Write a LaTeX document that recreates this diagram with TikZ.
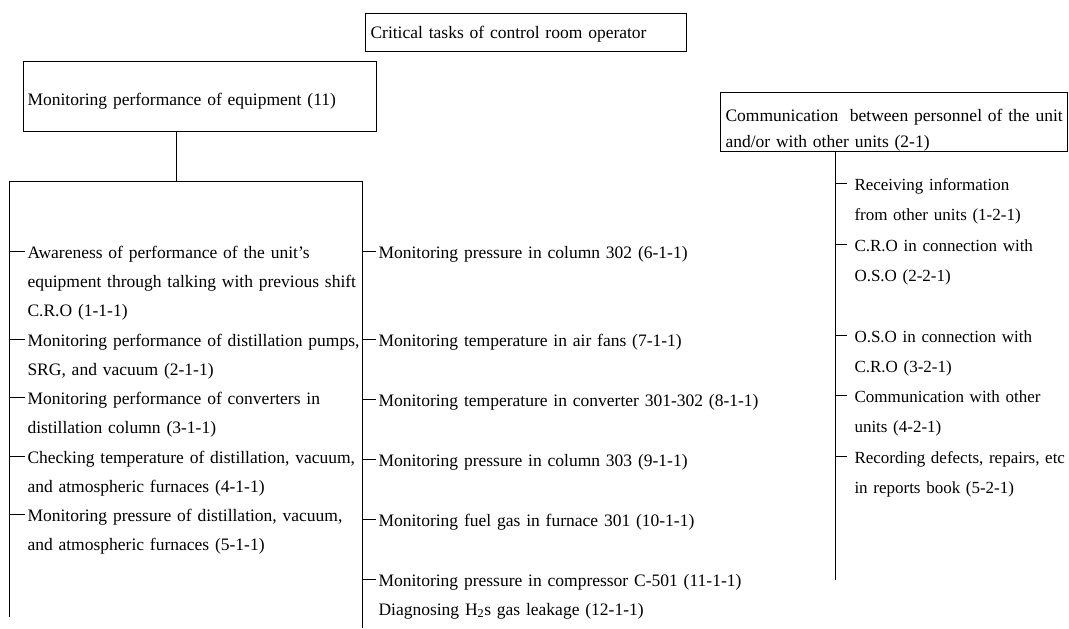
\documentclass[tikz,border=0pt]{standalone}
\usepackage{fontspec}
\setmainfont{Liberation Serif}
\usetikzlibrary{arrows.meta}

\tikzset{
  frame/.style={draw,rectangle,anchor=north west,inner sep=0pt},
  task/.style={anchor=base west,inner xsep=2pt,inner ysep=0pt,align=left,text width=#1,
    font=\fontsize{17.5}{29.3}\selectfont},
  task/.default=340,
  rtask/.style={task=225,font=\fontsize{17}{30.3}\selectfont},
}

\begin{document}
\begin{tikzpicture}[x=1pt,y=-1pt,line width=1pt]
            \useasboundingbox (0,0) rectangle (1069,629);
            % boxes
            \node [frame,minimum width=321,minimum height=38] (critbox) at (365,13) {};
            \node [task=318] (crit) at (368,38) {Critical tasks of control room operator};
            \node [frame,minimum width=353,minimum height=70] (monbox) at (23,61) {};
            \node [task=340] (mon) at (25,105) {Monitoring performance of equipment (11)};
            \node [frame,minimum width=347,minimum height=59] (combox) at (720,92) {};
            \node [task=345,font=\fontsize{17.5}{26}\selectfont] (com) at (723,121) {Communication~ between personnel of the unit\\and/or with other units (2-1)};
            % frame of the equipment tasks
            \coordinate (ltop) at (9,181);
            \coordinate (lbot) at (9,617);
            \coordinate (mtop) at (362,181);
            \coordinate (mbot) at (362,628);
            \coordinate (ljoin) at (176,181);
            \coordinate (rbot) at (835,580);
            \draw (lbot) -- (ltop) -- (mtop) -- (mbot);
            \draw (ljoin |- monbox.south) -- (ljoin);
            \draw (rbot |- combox.south) -- (rbot);
            % left column
            \node [task] (l1) at (25,258) {Awareness of performance of the unit's\\equipment through talking with previous shift\\C.R.O (1-1-1)};
            \node [task] (l2) at (25,346) {Monitoring performance of distillation pumps,\\SRG, and vacuum (2-1-1)};
            \node [task] (l3) at (25,404.5) {Monitoring performance of converters in\\distillation column (3-1-1)};
            \node [task] (l4) at (25,463) {Checking temperature of distillation, vacuum,\\and atmospheric furnaces (4-1-1)};
            \node [task] (l5) at (25,521.5) {Monitoring pressure of distillation, vacuum,\\and atmospheric furnaces (5-1-1)};
            % middle column
            \node [task=420] (m1) at (376,258) {Monitoring pressure in column 302 (6-1-1)};
            \node [task=420] (m2) at (376,346) {Monitoring temperature in air fans (7-1-1)};
            \node [task=420] (m3) at (376,406) {Monitoring temperature in converter 301-302 (8-1-1)};
            \node [task=420] (m4) at (376,466) {Monitoring pressure in column 303 (9-1-1)};
            \node [task=420] (m5) at (376,526) {Monitoring fuel gas in furnace 301 (10-1-1)};
            \node [task=420] (m6) at (376,586) {Monitoring pressure in compressor C-501 (11-1-1)};
            \node [task=420] (m7) at (376,615) {Diagnosing H\textsubscript{2}s gas leakage (12-1-1)};
            % right column
            \node [rtask] (r1) at (852,190) {Receiving information\\from other units (1-2-1)};
            \node [rtask] (r2) at (852,251) {C.R.O in connection with\\O.S.O (2-2-1)};
            \node [rtask] (r3) at (852,342) {O.S.O in connection with\\C.R.O (3-2-1)};
            \node [rtask] (r4) at (852,402) {Communication with other\\units (4-2-1)};
            \node [rtask] (r5) at (852,463) {Recording defects, repairs, etc\\in reports book (5-2-1)};
            % ticks
            \foreach \t in {l1,l2,l3,l4,l5}
                \draw ([yshift=7pt]\t.base west -| ltop) -- ([yshift=7pt]\t.base west);
            \foreach \t in {m1,m2,m3,m4,m5,m6}
                \draw ([yshift=7pt]\t.base west -| mtop) -- ([yshift=7pt]\t.base west);
            \foreach \t in {r1,r2,r3,r4,r5}
                \draw ([yshift=7pt]\t.base west -| rbot) -- ([xshift=-5pt,yshift=7pt]\t.base west);
        \end{tikzpicture}
\end{document}
